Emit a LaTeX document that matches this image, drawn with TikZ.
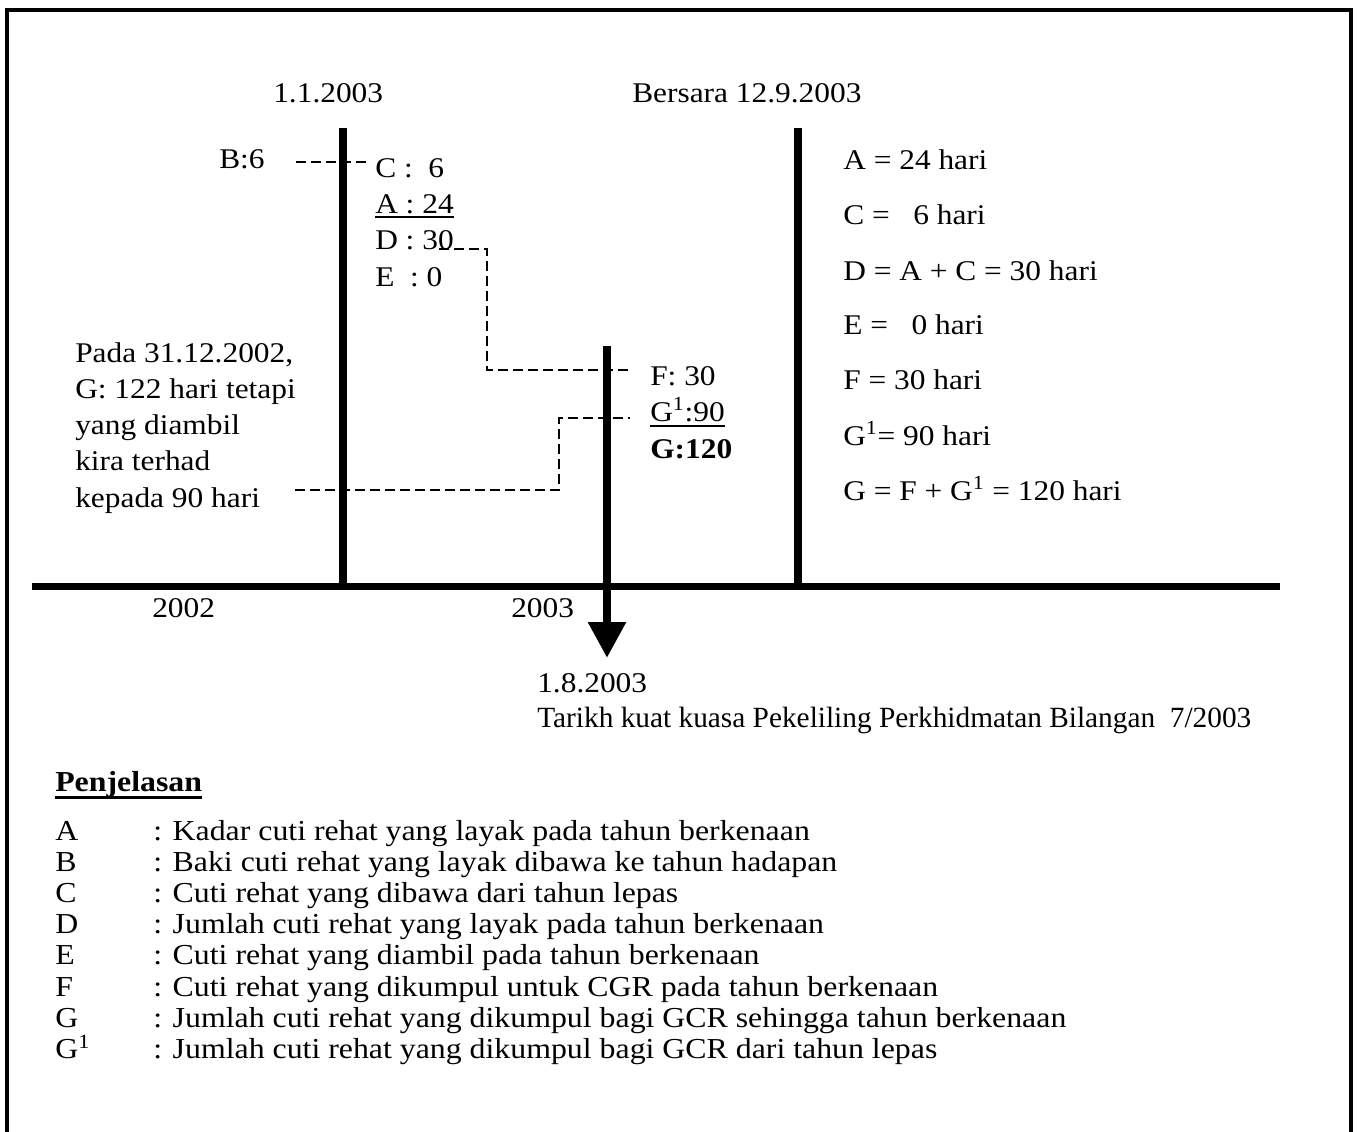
\documentclass[tikz,border=0pt]{standalone}
\usepackage{fontspec}
\setmainfont{Liberation Serif}
\newfontfamily\diagfont[FakeStretch=1.1]{Liberation Serif}
\usetikzlibrary{arrows.meta}
\begin{document}
\begin{tikzpicture}[x=0.75pt,y=-0.75pt,
  txt/.style={anchor=base west, inner sep=0pt, font=\diagfont\fontsize{21.4pt}{25pt}\selectfont},
  leg/.style={anchor=base west, inner sep=0pt, font=\diagfont\fontsize{21.7pt}{25pt}\selectfont},
  tar/.style={anchor=base west, inner sep=0pt, font=\fontsize{22pt}{25pt}\selectfont},
  bar/.style={line width=5.6pt},
  dashline/.style={line width=1.3pt, dash pattern=on 7.5pt off 3.75pt},
  uline/.style={line width=1.5pt},
]
\useasboundingbox (0,0) rectangle (1358,1131);
% frame (open at bottom)
\draw[line width=3pt] (7,1140) -- (7,10) -- (1351,10) -- (1351,1140);

% timeline and bars
\coordinate (tlL) at (32,586.5);
\coordinate (tlR) at (1280,586.5);
\draw[line width=5.3pt] (tlL) -- (tlR);
\coordinate (b1top) at (343,128);
\coordinate (b2top) at (798,128);
\draw[bar] (b1top) -- (b1top |- tlL);
\draw[bar] (b2top) -- (b2top |- tlL);
\coordinate (arrtop) at (607,346);
\coordinate (arrtip) at (607,658);
\draw[line width=6.5pt, -{Triangle[length=27pt,width=27pt]}] (arrtop) -- (arrtip);

% top labels
\node[txt] (d1) at (273,102) {1.1.2003};
\node[txt] (d2) at (632,102) {Bersara 12.9.2003};

% left column values
\node[txt] (B6) at (219,168) {B:6};
\node[txt] (C6) at (375,177) {C :\ \ 6};
\node[txt] (A24) at (375,213) {A : 24};
\node[txt] (D30) at (375,249) {D : 30};
\node[txt] (E0) at (375,286) {E\ \ : 0};
\draw[uline] ([yshift=-3pt]A24.base west) -- ([yshift=-3pt]A24.base east);

% middle values
\node[txt] (F30) at (650,385) {F: 30};
\node[txt] (G190) at (650,421) {G\textsuperscript{1}:90};
\node[txt] (G120) at (650,458) {\bfseries G:120};
\draw[uline] ([yshift=-4pt]G190.base west) -- ([yshift=-4pt]G190.base east);

% left note
\node[txt] (n1) at (75,362) {Pada 31.12.2002,};
\node[txt] (n2) at (75,398) {G: 122 hari tetapi};
\node[txt] (n3) at (75,434) {yang diambil};
\node[txt] (n4) at (75,470) {kira terhad};
\node[txt] (n5) at (75,507) {kepada 90 hari};

% right list
\node[txt] (r1) at (843,169) {A = 24 hari};
\node[txt] (r2) at (843,224) {C =\ \ \ 6 hari};
\node[txt] (r3) at (843,280) {D = A + C = 30 hari};
\node[txt] (r4) at (843,334) {E =\ \ \ 0 hari};
\node[txt] (r5) at (843,389) {F = 30 hari};
\node[txt] (r6) at (843,445) {G\textsuperscript{1}= 90 hari};
\node[txt] (r7) at (843,500) {G = F + G\textsuperscript{1} = 120 hari};

% years and bottom labels
\node[txt] (y2002) at (152,617) {2002};
\node[txt] (y2003) at (511,617) {2003};
\node[txt] (d3) at (537,692) {1.8.2003};
\node[tar] (tk) at (537,727) {Tarikh kuat kuasa Pekeliling Perkhidmatan Bilangan\ \ 7/2003};

% dashed connectors
\coordinate (bs) at (296,162);
\draw[dashline] (bs) -- ([xshift=-5pt]C6.west |- bs);
\coordinate (ds) at (439,249);
\coordinate (dc) at (487,370);
\draw[dashline] (ds) -| (dc) -- ([xshift=-15pt]F30.west |- dc);
\coordinate (gs) at (295,490);
\coordinate (gc) at (559,418);
\draw[dashline] (gs) -| (gc) -- ([xshift=-15pt]G190.west |- gc);

% legend
\node[leg] (pj) at (55,791) {\bfseries Penjelasan};
\draw[line width=2pt] ([yshift=-5pt]pj.base west) -- ([yshift=-5pt]pj.base east);
\foreach \k/\l/\t in {0/A/{: Kadar cuti rehat yang layak pada tahun berkenaan},
  1/B/{: Baki cuti rehat yang layak dibawa ke tahun hadapan},
  2/C/{: Cuti rehat yang dibawa dari tahun lepas},
  3/D/{: Jumlah cuti rehat yang layak pada tahun berkenaan},
  4/E/{: Cuti rehat yang diambil pada tahun berkenaan},
  5/F/{: Cuti rehat yang dikumpul untuk CGR pada tahun berkenaan},
  6/G/{: Jumlah cuti rehat yang dikumpul bagi GCR sehingga tahun berkenaan},
  7/{G\textsuperscript{1}}/{: Jumlah cuti rehat yang dikumpul bagi GCR dari tahun lepas}}{
  \node[leg] (lk\k) at (55,{840+31.2*\k}) {\l};
  \node[leg] (lt\k) at (153,{840+31.2*\k}) {\t};
}
\end{tikzpicture}
\end{document}
